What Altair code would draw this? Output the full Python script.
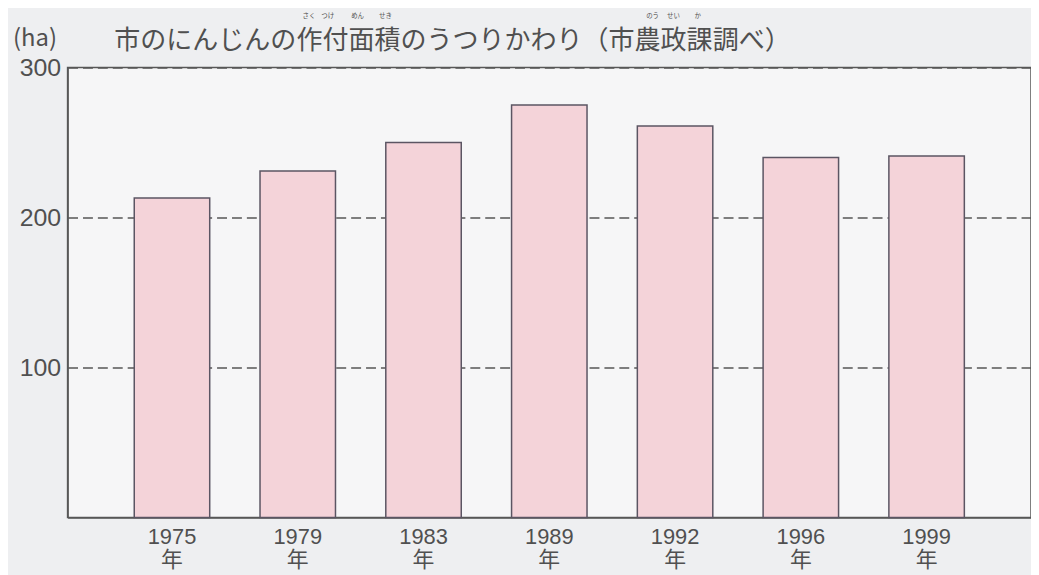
import altair as alt
import pandas as pd

# ---- data ----
years = ["1975", "1979", "1983", "1989", "1992", "1996", "1999"]
area_ha = [213, 231, 250, 275, 261, 240, 241]
y_ticks = [100, 200, 300]
unit_text = "(ha)"
title_text = "市のにんじんの作付面積のうつりかわり（市農政課調べ）"
ruby_texts = ["さく", "つけ", "めん", "せき", "のう", "せい", "か"]
year_suffix = "年"

df = pd.DataFrame({"year": years, "area": area_ha})

INK = "#575757"
TEXT = "#505050"
CJK = "'Noto Sans CJK JP', 'Noto Sans', sans-serif"
LATIN = "'Liberation Sans', 'Noto Sans CJK JP', sans-serif"

bars = alt.Chart(df).mark_bar(
    fill="#f4d3d9", stroke="#5b5563", strokeWidth=1.5
).encode(
    x=alt.X(
        "year:N", sort=years,
        scale=alt.Scale(paddingInner=0.4, paddingOuter=0.53),
        axis=alt.Axis(
            title=None, ticks=False, labelAngle=0,
            labelExpr="[datum.label, '" + year_suffix + "']",
            labelFont=LATIN, labelFontSize=22, labelLineHeight=23,
            labelColor=TEXT, labelBaseline="top", labelPadding=9,
            domainColor=INK, domainWidth=1.5, grid=False,
        ),
    ),
    y=alt.Y(
        "area:Q",
        scale=alt.Scale(domain=[0, 300], nice=False),
        axis=alt.Axis(
            title=None, values=y_ticks, ticks=False,
            labelFont=LATIN, labelFontSize=25, labelColor=TEXT,
            labelPadding=7, domainColor=INK, domainWidth=1.5,
            grid=True, gridColor=INK, gridWidth=1.5, gridDash=[10, 5],
        ),
    ),
)

one = alt.Data(values=[{}])


def text_at(text, x, y, size, align="left", font=CJK):
    return alt.Chart(one).mark_text(
        align=align, baseline="alphabetic", font=font, fontSize=size,
        color=TEXT,
    ).encode(x=alt.value(x), y=alt.value(y), text=alt.value(text))


# annotation placement (relative to plot origin)
ruby_x = [243, 262, 292, 320, 589, 610, 634.5]
layers = [bars,
          text_at(unit_text, -55, -22, 24),
          text_at(title_text, 47, -19, 26.2)]
for t, rx in zip(ruby_texts, ruby_x):
    layers.append(text_at(t, rx, -50, 6.5, align="center"))

chart = alt.layer(*layers).properties(
    width=970, height=453,
    padding={"left": 60, "top": 58, "right": 0, "bottom": 56},
    autosize=alt.AutoSizeParams(type="none"),
    background="#eeeff1",
).configure_view(
    fill="#f6f6f7", stroke=INK, strokeWidth=1.5
)

chart.save("out.html", embed_options={"renderer": "svg", "actions": False})
